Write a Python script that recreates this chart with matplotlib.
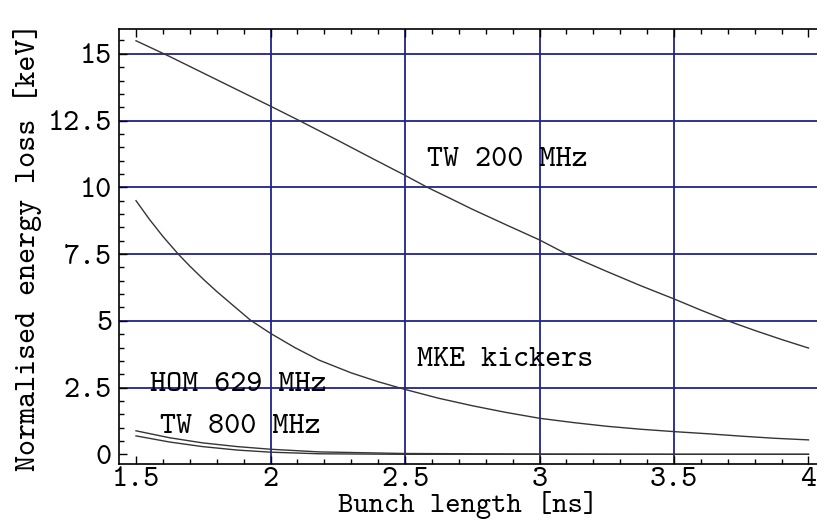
import matplotlib.pyplot as plt
from matplotlib.ticker import MultipleLocator, FixedLocator

# bunch length [ns] and normalised energy loss [keV] for each source
tw200_x = [1.5, 1.625, 1.75, 1.875, 2.0, 2.107, 2.25, 2.375, 2.5, 2.583, 2.667,
           2.75, 2.875, 3.0, 3.101, 3.25, 3.375, 3.5, 3.6, 3.7, 3.8, 3.9, 4.0]
tw200_y = [15.49, 14.9, 14.28, 13.66, 13.04, 12.5, 11.76, 11.1, 10.45, 10.0,
           9.59, 9.18, 8.6, 8.03, 7.5, 6.85, 6.32, 5.82, 5.4, 5.0, 4.64, 4.3, 3.98]

mke_x = [1.5, 1.55, 1.6, 1.657, 1.7, 1.75, 1.8, 1.85, 1.926, 2.0, 2.09, 2.18,
         2.3, 2.4, 2.5, 2.625, 2.75, 2.875, 3.0, 3.125, 3.25, 3.375, 3.5,
         3.625, 3.75, 3.875, 4.0]
mke_y = [9.5, 8.8, 8.16, 7.5, 7.05, 6.56, 6.1, 5.67, 5.02, 4.53, 4.0, 3.53,
         3.05, 2.72, 2.43, 2.1, 1.82, 1.57, 1.35, 1.19, 1.05, 0.94, 0.85,
         0.77, 0.68, 0.6, 0.54]

hom629_x = [1.5, 1.625, 1.746, 1.875, 2.0, 2.18, 2.5, 3.0, 3.5, 4.0]
hom629_y = [0.88, 0.62, 0.43, 0.29, 0.19, 0.09, 0.03, 0.01, 0.0, 0.0]

tw800_x = [1.5, 1.625, 1.746, 1.875, 2.0, 2.18, 2.5, 3.0, 3.5, 4.0]
tw800_y = [0.69, 0.46, 0.29, 0.16, 0.08, 0.02, 0.0, 0.0, 0.0, 0.0]

FONT = ["cmtt10", "Liberation Mono"]
FS = 22
GRID = "#22228c"

fig = plt.figure(figsize=(8.17, 5.24), dpi=100)
ax = fig.add_axes([119 / 817, 60 / 524, 698 / 817, 435 / 524])

for xs, ys in ((tw200_x, tw200_y), (mke_x, mke_y),
               (hom629_x, hom629_y), (tw800_x, tw800_y)):
    ax.plot(xs, ys, color="#353535", lw=1.0, zorder=3)

ax.set_xlim(1.4368, 4.0316)
ax.set_ylim(-0.363, 15.93)

for g in [2.0, 2.5, 3.0, 3.5]:
    ax.axvline(g, color=GRID, lw=1.3, zorder=1)
for g in [2.5, 5, 7.5, 10, 12.5, 15]:
    ax.axhline(g, color=GRID, lw=1.3, zorder=1)

ax.xaxis.set_major_locator(FixedLocator([1.5, 2, 2.5, 3, 3.5, 4]))
ax.xaxis.set_minor_locator(MultipleLocator(0.1))
ax.yaxis.set_major_locator(FixedLocator([0, 2.5, 5, 7.5, 10, 12.5, 15]))
ax.yaxis.set_minor_locator(MultipleLocator(0.5))
ax.set_xticklabels(["1.5", "2", "2.5", "3", "3.5", "4"])
ax.set_yticklabels(["0", "2.5", "5", "7.5", "10", "12.5", "15"])

ax.tick_params(which="both", direction="in", top=True, right=False,
               width=1.0, color="black")
ax.tick_params(which="major", length=6, labelsize=FS, pad=5)
ax.tick_params(axis="x", which="major", pad=2)
ax.tick_params(which="minor", length=3.5)
for lab in ax.get_xticklabels() + ax.get_yticklabels():
    lab.set_fontfamily(FONT)

ax.spines["right"].set_visible(False)
for s in ("left", "bottom", "top"):
    ax.spines[s].set_linewidth(1.2)

ax.set_xlabel("Bunch length [ns]", fontfamily=FONT, fontsize=21, labelpad=-1)
ax.set_ylabel("Normalised energy loss [keV]", fontfamily=FONT, fontsize=FS,
              labelpad=4)

ax.text(2.58, 11.02, "TW 200 MHz", fontfamily=FONT, fontsize=FS, va="center")
ax.text(2.545, 3.53, "MKE kickers", fontfamily=FONT, fontsize=FS, va="center")
ax.text(1.552, 2.6, "HOM 629 MHz", fontfamily=FONT, fontsize=FS, va="center")
ax.text(1.589, 1.02, "TW 800 MHz", fontfamily=FONT, fontsize=FS, va="center")

fig.savefig("out.png", dpi=100)
